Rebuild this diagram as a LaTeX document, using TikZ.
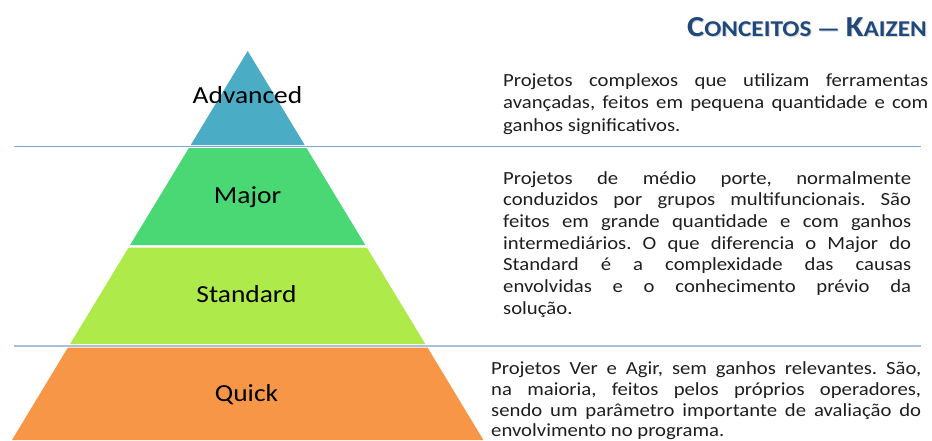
\documentclass[tikz,border=0pt]{standalone}
\usepackage{fontspec}
\setmainfont{Carlito}[FakeStretch=1.12]
\frenchspacing
\definecolor{cblue}{RGB}{75,172,198}
\definecolor{cgreen}{RGB}{74,216,116}
\definecolor{clime}{RGB}{174,234,74}
\definecolor{corange}{RGB}{247,150,70}
\definecolor{cline}{RGB}{127,166,218}
\definecolor{clinelt}{RGB}{168,192,222}
\definecolor{ctitle}{RGB}{31,73,125}
\definecolor{ctext}{RGB}{30,30,30}
\newcommand\tbig[1]{{\fontsize{29}{29}\selectfont #1}}
\newcommand\tsml[1]{{\fontsize{22.6}{29}\selectfont #1}}
\newcommand\jline[1]{\makebox[\hsize][s]{#1}\par}
\begin{document}
\begin{tikzpicture}[x=1pt,y=-1pt,
  lvl/.style={anchor=base,inner sep=0pt,font=\fontsize{24.5}{28}\selectfont,text=black},
  desc/.style={anchor=base west,inner sep=0pt,font=\fontsize{18.5}{22}\selectfont,text=ctext},
  sep/.style={line width=1.3pt}]
\useasboundingbox (0,0) rectangle (932,440);
% pyramid bands
\fill[cblue] (247.7,51) -- (304.7,145) -- (190.7,145) -- cycle;
\fill[cgreen] (188.9,148) -- (306.5,148) -- (365.3,245) -- (130.1,245) -- cycle;
\fill[clime] (128.6,247.5) -- (366.8,247.5) -- (425.3,344) -- (70.1,344) -- cycle;
\fill[corange] (67.9,347.5) -- (427.5,347.5) -- (483.4,440) -- (12.0,440) -- cycle;
% separator lines
\coordinate (s1a) at (14,146.5);
\coordinate (s1b) at (921,146.5);
\coordinate (s2a) at (14,346);
\coordinate (s2b) at (921,346);
\draw[sep,cline] (s1a) -- (s1b);
\draw[sep,clinelt] (s2a) -- (s2b);
% level labels
\node[lvl] (adv) at (247.5,103.3) {Advanced};
\node[lvl] (maj) at (247.5,203.3) {Major};
\node[lvl] (std) at (246.5,302.7) {Standard};
\node[lvl] (qck) at (246.5,401.7) {Quick};
% title
\node[anchor=base east,inner sep=0pt,text=black,opacity=0.15] (tshadow) at (928,37.7)
  {\bfseries\tbig{C}\tsml{ONCEITOS — }\tbig{K}\tsml{AIZEN}};
\node[anchor=base east,inner sep=0pt,text=ctitle] (title) at (927,36.7)
  {\bfseries\tbig{C}\tsml{ONCEITOS — }\tbig{K}\tsml{AIZEN}};
% descriptions
\node[desc] (d1) at (503,86.7) {\vtop{\hsize=425pt\parindent=0pt\baselineskip=22.2pt
  \jline{Projetos complexos que utilizam ferramentas}
  \jline{avançadas, feitos em pequena quantidade e com}
  ganhos significativos.\par}};
\node[desc] (d2) at (503,184) {\vtop{\hsize=408pt\parindent=0pt\baselineskip=21.7pt
  \jline{Projetos de médio porte, normalmente}
  \jline{conduzidos por grupos multifuncionais. São}
  \jline{feitos em grande quantidade e com ganhos}
  \jline{intermediários. O que diferencia o Major do}
  \jline{Standard é a complexidade das causas}
  \jline{envolvidas e o conhecimento prévio da}
  solução.\par}};
\node[desc] (d3) at (491,374.5) {\vtop{\hsize=430pt\parindent=0pt\baselineskip=20.8pt
  \jline{Projetos Ver e Agir, sem ganhos relevantes. São,}
  \jline{na maioria, feitos pelos próprios operadores,}
  \jline{sendo um parâmetro importante de avaliação do}
  envolvimento no programa.\par}};
\end{tikzpicture}
\end{document}
